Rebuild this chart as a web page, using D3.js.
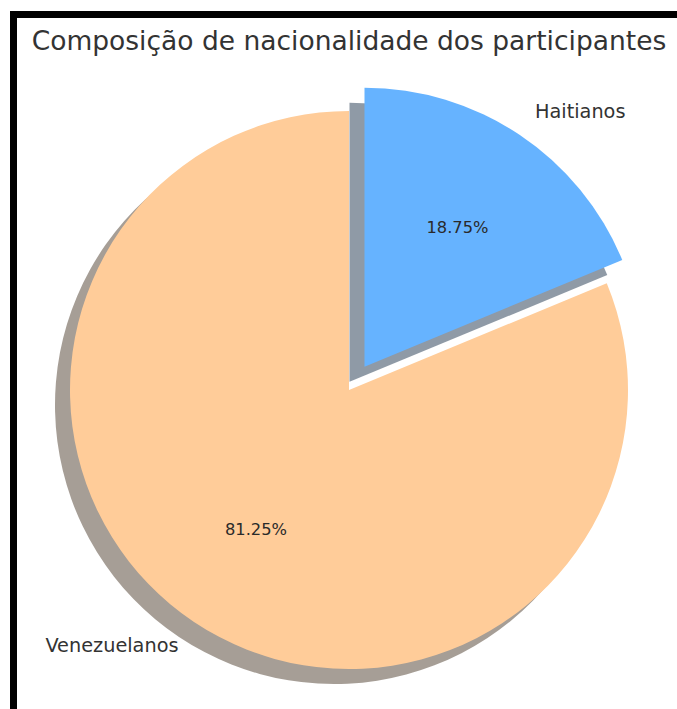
<!DOCTYPE html>
<html>
<head>
<meta charset="utf-8">
<script src="https://cdn.jsdelivr.net/npm/d3@7"></script>
<style>
  html, body { margin: 0; padding: 0; background: #fff; }
  svg { display: block; }
</style>
</head>
<body>
<svg id="chart" width="677" height="709"></svg>
<script>
// Nationality of participants
const categories = ["Venezuelanos", "Haitianos"];
const values = [81.25, 18.75];
const explode = [0, 0.1];
const colors = ["#ffcc99", "#66b3ff"];
const title = "Composição de nacionalidade dos participantes";

const W = 677, H = 709;
const cx = 349, cy = 390, r = 279;
const shadowDx = -15, shadowDy = 15;

const svg = d3.select("#chart");

svg.append("rect").attr("width", W).attr("height", H).attr("fill", "#fff");

// frame (top and left edges)
svg.append("path")
  .attr("d", `M13.5,${H} V14.5 H${W}`)
  .attr("fill", "none")
  .attr("stroke", "#000")
  .attr("stroke-width", 7);

svg.append("text")
  .attr("x", cx)
  .attr("y", 50)
  .attr("text-anchor", "middle")
  .attr("font-family", "DejaVu Sans")
  .attr("font-size", 26.5)
  .attr("fill", "#333")
  .text(title);

// counter-clockwise from 12 o'clock, input order kept
const pie = d3.pie().sort(null).startAngle(0).endAngle(-2 * Math.PI);
const arcs = pie(values);
const arc = d3.arc().innerRadius(0).outerRadius(r);

const g = svg.append("g").attr("transform", `translate(${cx},${cy})`);

function offset(d, i) {
  const mid = (d.startAngle + d.endAngle) / 2;
  const e = explode[i] * r;
  return [Math.sin(mid) * e, -Math.cos(mid) * e];
}

function shadowColor(c) {
  const k = d3.rgb(c);
  return d3.rgb(k.r * 0.3, k.g * 0.3, k.b * 0.3).formatHex();
}

// shadows beneath all wedges
g.selectAll("path.shadow")
  .data(arcs)
  .join("path")
  .attr("class", "shadow")
  .attr("d", arc)
  .attr("transform", (d, i) => {
    const [ox, oy] = offset(d, i);
    return `translate(${ox + shadowDx},${oy + shadowDy})`;
  })
  .attr("fill", (d, i) => shadowColor(colors[i]))
  .attr("fill-opacity", 0.5);

g.selectAll("path.wedge")
  .data(arcs)
  .join("path")
  .attr("class", "wedge")
  .attr("d", arc)
  .attr("transform", (d, i) => {
    const [ox, oy] = offset(d, i);
    return `translate(${ox},${oy})`;
  })
  .attr("fill", (d, i) => colors[i]);

// category labels outside the wedges
g.selectAll("text.label")
  .data(arcs)
  .join("text")
  .attr("class", "label")
  .each(function (d, i) {
    const mid = (d.startAngle + d.endAngle) / 2;
    const [ox, oy] = offset(d, i);
    const x = ox + Math.sin(mid) * r * 1.1;
    const y = oy - Math.cos(mid) * r * 1.1;
    d3.select(this)
      .attr("x", x)
      .attr("y", y)
      .attr("dy", "0.35em")
      .attr("text-anchor", x > 0 ? "start" : "end");
  })
  .attr("font-family", "DejaVu Sans")
  .attr("font-size", 19.3)
  .attr("fill", "#333")
  .text((d, i) => categories[i]);

// percentage labels inside
g.selectAll("text.pct")
  .data(arcs)
  .join("text")
  .attr("class", "pct")
  .each(function (d, i) {
    const mid = (d.startAngle + d.endAngle) / 2;
    const [ox, oy] = offset(d, i);
    d3.select(this)
      .attr("x", ox + Math.sin(mid) * r * 0.6)
      .attr("y", oy - Math.cos(mid) * r * 0.6)
      .attr("dy", "0.35em")
      .attr("text-anchor", "middle");
  })
  .attr("font-family", "DejaVu Sans")
  .attr("font-size", 16.3)
  .attr("fill", "#2a2a2a")
  .text(d => d.data.toFixed(2) + "%");
</script>
</body>
</html>
